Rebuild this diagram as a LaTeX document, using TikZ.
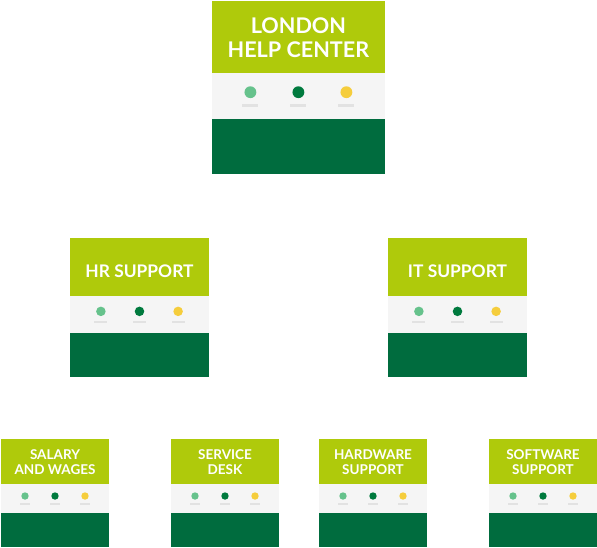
\documentclass[tikz,border=0pt]{standalone}
\usepackage{fontspec}
\setmainfont{Lato}[UprightFont=* Bold]
\definecolor{limeband}{HTML}{AFCA0B}
\definecolor{grayband}{HTML}{F5F5F5}
\definecolor{darkband}{HTML}{006C3E}
\definecolor{dotlight}{HTML}{66C28C}
\definecolor{dotdark}{HTML}{007A3E}
\definecolor{dotyellow}{HTML}{F5CD3C}
\definecolor{barcol}{HTML}{E2E2E2}
\tikzset{
  cardtext/.style={text=white, align=center, font=\fontsize{13.5}{15}\selectfont, inner sep=0pt},
}
% name, x, y, scale, text, text y
\newcommand\card[6]{%
  \begin{scope}[shift={(#2,#3)}, scale=#4, transform shape]
    \fill[limeband] (0,0) rectangle (108,45);
    \fill[grayband] (0,45) rectangle (108,74);
    \fill[darkband] (0,74) rectangle (108,108);
    \fill[dotlight]  (24,57) circle (3.7);
    \fill[dotdark]   (54,57) circle (3.7);
    \fill[dotyellow] (84,57) circle (3.7);
    \fill[barcol] (19,64.2) rectangle (29,66.2);
    \fill[barcol] (49,64.2) rectangle (59,66.2);
    \fill[barcol] (79,64.2) rectangle (89,66.2);
    \node[cardtext] (#1) at (54,#6) {#5};
  \end{scope}}
\begin{document}
\begin{tikzpicture}[x=1pt,y=-1pt]
  \useasboundingbox (0,0) rectangle (597,547);
  \card{london}{212}{1}{1.6}{LONDON\\HELP CENTER}{23.2}
  \card{hr}{70}{238}{1.287}{HR SUPPORT}{25.6}
  \card{it}{388}{238}{1.287}{IT SUPPORT}{25.6}
  \card{salary}{1}{439}{1}{SALARY\\AND WAGES}{23.5}
  \card{service}{171}{439}{1}{SERVICE\\DESK}{23.5}
  \card{hardware}{319}{439}{1}{HARDWARE\\SUPPORT}{23.5}
  \card{software}{489}{439}{1}{SOFTWARE\\SUPPORT}{23.5}
\end{tikzpicture}
\end{document}
